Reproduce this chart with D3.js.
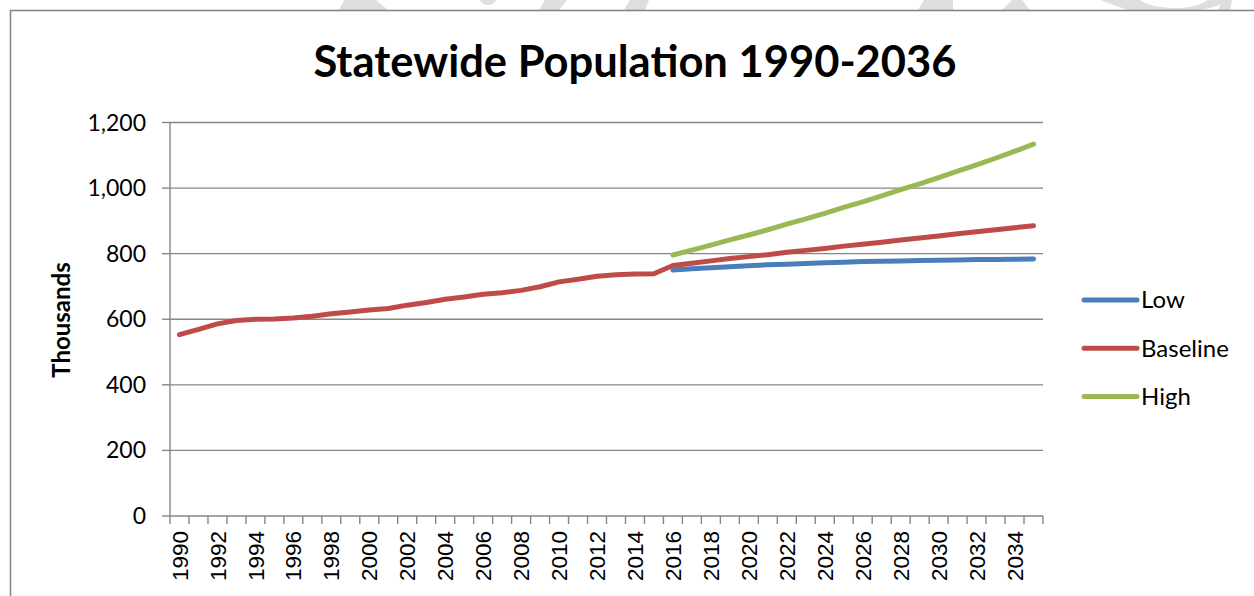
<!DOCTYPE html>
<html>
<head>
<meta charset="utf-8">
<script src="https://cdn.jsdelivr.net/npm/d3@7"></script>
<style>
  html, body { margin: 0; padding: 0; background: #ffffff; }
  svg { display: block; }
</style>
</head>
<body>
<svg id="chart" width="1254" height="596"></svg>
<script>
// Years shown on the category axis
const years = d3.range(1990, 2036);

// Population in thousands
const baselineYears = d3.range(1990, 2036);
const baseline = [553, 569, 586, 596, 600, 601, 604, 609, 617, 622,
                  628, 633, 643, 651, 661, 668, 676, 681, 688, 699,
                  714, 722, 731, 736, 738, 739, 764, 771, 778, 785,
                  791, 797, 804, 810, 816, 823, 829, 835, 842, 848,
                  854, 861, 867, 873, 879, 885];

const projYears = d3.range(2016, 2036);
const low  = [750, 754, 757, 760, 763, 766, 768, 770, 772, 774,
              776, 777, 778, 779, 780, 781, 782, 782, 783, 784];
const high = [796, 811, 826, 842, 857, 873, 890, 906, 923, 941,
              958, 976, 995, 1013, 1032, 1052, 1071, 1091, 1112, 1134];

const yTicks = [0, 200, 400, 600, 800, 1000, 1200];
const xLabels = years.filter(y => y % 2 === 0);

const seriesNames = ["Low", "Baseline", "High"];
const seriesColors = ["#4a7ebb", "#be4b48", "#98b954"];

const svg = d3.select("#chart");

// Faint watermark fragments peeking above the frame
const wm = svg.append("g").attr("fill", "#dedede");
const wmShapes = [
  [[344,0],[376,0],[388,10],[339,10]],
  [[539,10],[545,0],[567,0],[559,10]],
  [[624,10],[630,0],[649,0],[645,10]],
  [[924,0],[953,0],[953,10],[918,10]],
  [[1012,0],[1022,0],[1030,10],[1002,10]],
  [[1218,10],[1222,0],[1232,0],[1230,10]]
];
wmShapes.forEach(p => wm.append("path").attr("d", d3.line()(p) + "Z"));
wm.append("path").attr("d", "M480,0 L496,0 Q494,5 488,5 Q482,5 480,0 Z");
wm.append("path").attr("d", "M1100,0 L1128,10 L1200,10 Q1222,6 1228,0 L1208,0 Q1196,8 1178,8 Q1150,8 1140,0 Z");

// Chart frame
svg.append("rect")
  .attr("x", 10.5).attr("y", 10.5)
  .attr("width", 1260).attr("height", 600)
  .attr("fill", "#ffffff")
  .attr("stroke", "#868686").attr("stroke-width", 1.6);

const plotLeft = 170, plotRight = 1043, plotTop = 122.5, plotBottom = 516;

const x = d3.scaleBand().domain(years).range([plotLeft, plotRight]).padding(0);
const y = d3.scaleLinear().domain([0, 1200]).range([plotBottom, plotTop]);
const cx = yr => x(yr) + x.bandwidth() / 2;

// Horizontal gridlines
svg.append("g").selectAll("line").data(yTicks.filter(t => t > 0)).join("line")
  .attr("x1", plotLeft).attr("x2", plotRight)
  .attr("y1", d => y(d)).attr("y2", d => y(d))
  .attr("stroke", "#868686").attr("stroke-width", 1.4);

// Y axis line, ticks, labels
svg.append("line").attr("x1", plotLeft).attr("x2", plotLeft).attr("y1", plotTop).attr("y2", plotBottom)
  .attr("stroke", "#868686").attr("stroke-width", 1.4);
svg.append("g").selectAll("line").data(yTicks).join("line")
  .attr("x1", plotLeft - 8).attr("x2", plotLeft)
  .attr("y1", d => y(d)).attr("y2", d => y(d))
  .attr("stroke", "#868686").attr("stroke-width", 1.4);
svg.append("g").selectAll("text").data(yTicks).join("text")
  .attr("x", 146).attr("y", d => y(d))
  .attr("dy", "0.35em")
  .attr("text-anchor", "end")
  .attr("font-family", "Lato, 'Open Sans', sans-serif")
  .attr("font-size", 23)
  .attr("fill", "#000")
  .text(d => d3.format(",")(d));

// X axis line, ticks at category boundaries, rotated labels
svg.append("line").attr("x1", plotLeft).attr("x2", plotRight).attr("y1", plotBottom).attr("y2", plotBottom)
  .attr("stroke", "#868686").attr("stroke-width", 1.4);
const bounds = years.map(yr => x(yr)).concat([plotRight]);
svg.append("g").selectAll("line").data(bounds).join("line")
  .attr("x1", d => d).attr("x2", d => d)
  .attr("y1", plotBottom).attr("y2", plotBottom + 8)
  .attr("stroke", "#868686").attr("stroke-width", 1.4);
svg.append("g").selectAll("text").data(xLabels).join("text")
  .attr("transform", d => `translate(${cx(d)},531) rotate(-90)`)
  .attr("dy", "0.36em")
  .attr("text-anchor", "end")
  .attr("font-family", "'Liberation Sans', Arial, sans-serif")
  .attr("font-size", 22.5)
  .attr("fill", "#000")
  .text(d => d);

// Series lines
const line = d3.line().x(d => cx(d[0])).y(d => y(d[1]));
const seriesData = [
  d3.zip(projYears, low),
  d3.zip(baselineYears, baseline),
  d3.zip(projYears, high)
];
seriesData.forEach((data, i) => {
  svg.append("path").datum(data)
    .attr("d", line)
    .attr("fill", "none")
    .attr("stroke", seriesColors[i])
    .attr("stroke-width", 5)
    .attr("stroke-linecap", "round")
    .attr("stroke-linejoin", "round");
});

// Legend
const lg = svg.append("g");
seriesNames.forEach((name, i) => {
  const ly = 300 + i * 48.3;
  lg.append("line").attr("x1", 1084).attr("x2", 1137).attr("y1", ly).attr("y2", ly)
    .attr("stroke", seriesColors[i]).attr("stroke-width", 5).attr("stroke-linecap", "round");
  lg.append("text").attr("x", 1141).attr("y", ly).attr("dy", "0.35em")
    .attr("font-family", "Lato, 'Open Sans', sans-serif")
    .attr("font-size", 24).attr("fill", "#000")
    .text(name);
});

// Title
svg.append("text")
  .attr("x", 635).attr("y", 77)
  .attr("text-anchor", "middle")
  .attr("font-family", "Lato, 'Open Sans', sans-serif")
  .attr("font-weight", "bold")
  .attr("font-size", 43.5)
  .attr("fill", "#000")
  .text("Statewide Population 1990-2036");

// Y axis title
svg.append("text")
  .attr("transform", "translate(62,320) rotate(-90)")
  .attr("dy", "0.35em")
  .attr("text-anchor", "middle")
  .attr("font-family", "Lato, 'Open Sans', sans-serif")
  .attr("font-weight", "bold")
  .attr("font-size", 24)
  .attr("fill", "#000")
  .text("Thousands");
</script>
</body>
</html>
